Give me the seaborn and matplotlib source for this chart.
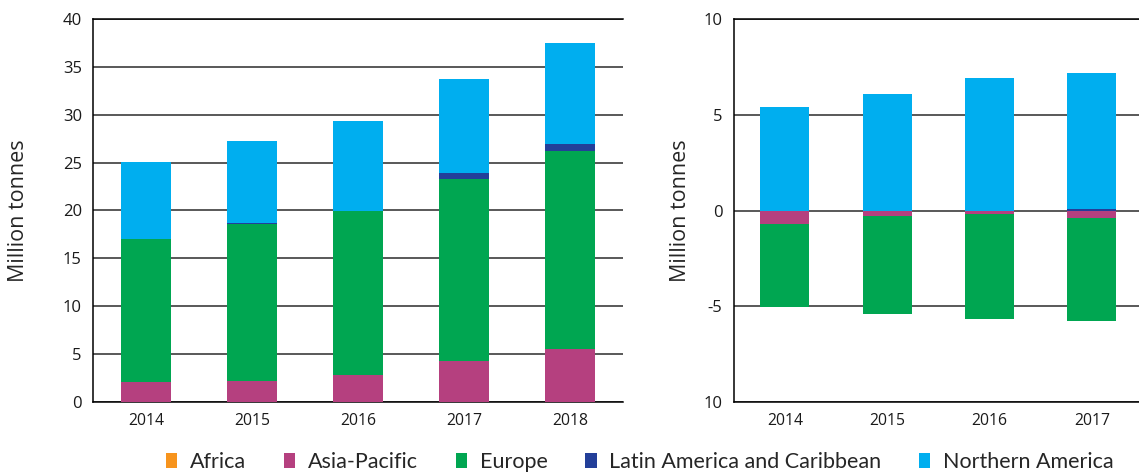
import matplotlib
matplotlib.use("Agg")
import matplotlib.pyplot as plt
import seaborn as sns
import numpy as np
import pandas as pd
from matplotlib.patches import Patch
from matplotlib.ticker import FixedLocator

# ---------------- data ----------------
regions = ["Africa", "Asia-Pacific", "Europe", "Latin America and Caribbean", "Northern America"]
colors = ["#F7941D", "#B5407F", "#00A651", "#233F99", "#00AEEF"]

years_left = ["2014", "2015", "2016", "2017", "2018"]
left_africa = [0.0, 0.0, 0.0, 0.0, 0.0]
left_asia = [2.1, 2.2, 2.8, 4.3, 5.5]
left_europe = [14.9, 16.4, 17.1, 19.0, 20.7]
left_latam = [0.0, 0.1, 0.05, 0.6, 0.7]
left_namerica = [8.1, 8.6, 9.4, 9.8, 10.6]

years_right = ["2014", "2015", "2016", "2017"]
right_africa = [0.0, 0.0, 0.0, 0.0]
right_asia = [-0.7, -0.3, -0.2, -0.4]
right_europe = [-4.33, -5.13, -5.45, -5.35]
right_latam = [0.0, 0.0, 0.0, 0.1]
right_namerica = [5.43, 6.1, 6.9, 7.1]

left_yticks = [0, 5, 10, 15, 20, 25, 30, 35, 40]
right_yticks = [10, 5, 0, -5, -10]
right_yticklabels = ["10", "5", "0", "-5", "10"]

# ---------------- style ----------------
sns.set_style("white")
plt.rcParams["font.family"] = ["Open Sans", "DejaVu Sans"]

W, H = 1139, 473
fig = plt.figure(figsize=(W / 100, H / 100), dpi=100)

ax_bottom = 1 - 402 / H
ax_height = (402 - 19) / H
axL = fig.add_axes([93 / W, ax_bottom, (623 - 93) / W, ax_height])
axR = fig.add_axes([733.7 / W, ax_bottom, 5 * 102.3 / W, ax_height])

bar_w = 0.48
grid_col = "#2b2b2b"


def draw_layers(ax, years, layers, cols):
    """layers: cumulative values, drawn outermost first"""
    for vals, c in zip(layers, cols):
        df = pd.DataFrame({"year": years, "value": vals})
        sns.barplot(data=df, x="year", y="value", color=c, width=bar_w,
                    saturation=1, ax=ax, linewidth=0, zorder=3)


# Left: all positive stacks
c1 = np.array(left_africa)
c2 = c1 + np.array(left_asia)
c3 = c2 + np.array(left_europe)
c4 = c3 + np.array(left_latam)
c5 = c4 + np.array(left_namerica)
draw_layers(axL, years_left, [c5, c4, c3, c2, c1],
            [colors[4], colors[3], colors[2], colors[1], colors[0]])

# Right: positive and negative stacks
p1 = np.array(right_latam)
p2 = p1 + np.array(right_namerica)
n1 = np.array(right_africa) + np.array(right_asia)
n2 = n1 + np.array(right_europe)
draw_layers(axR, years_right, [p2, p1, n2, n1],
            [colors[4], colors[3], colors[2], colors[1]])

for ax, ncat, labx in [(axL, 5, (19 - 93) / 530), (axR, 5, (680 - 733.7) / 511.5)]:
    ax.set_xlim(-0.5, ncat - 0.5)
    ax.yaxis.grid(True, color=grid_col, linewidth=1.1, zorder=0)
    ax.xaxis.grid(False)
    ax.set_axisbelow(True)
    ax.set_xlabel("")
    ax.set_ylabel("Million tonnes", fontsize=15.5, va="center")
    ax.yaxis.set_label_coords(labx, 0.5)
    for s in ["left", "bottom", "top"]:
        ax.spines[s].set_visible(True)
        ax.spines[s].set_color("black")
        ax.spines[s].set_linewidth(1.1)
    ax.spines["right"].set_visible(False)
    ax.tick_params(axis="y", length=0, labelsize=12, pad=8, colors="#1a1a1a")
    ax.tick_params(axis="x", which="major", length=0, labelsize=11.3, pad=8, colors="#1a1a1a")
    ax.xaxis.set_minor_locator(FixedLocator([i + 0.5 for i in range(ncat)]))
    ax.tick_params(axis="x", which="minor", direction="in", length=7, width=1.1,
                   color="#333333", top=False)

axL.set_ylim(0, 40)
axL.set_yticks(left_yticks)
axL.set_yticklabels([str(t) for t in left_yticks])

axR.set_ylim(-10, 10)
axR.set_yticks(right_yticks)
axR.set_yticklabels(right_yticklabels)

# Legend
handles = [Patch(facecolor=c, edgecolor="none", label=r) for r, c in zip(regions, colors)]
fig.legend(handles=handles, loc="center left", bbox_to_anchor=(166 / W, 1 - 462 / H),
           ncol=5, frameon=False, prop={"family": ["Lato", "DejaVu Sans"], "size": 15.5},
           handlelength=0.52, handleheight=0.7,
           handletextpad=0.6, columnspacing=1.75, borderpad=0, borderaxespad=0)

fig.savefig("out.png", dpi=100)
